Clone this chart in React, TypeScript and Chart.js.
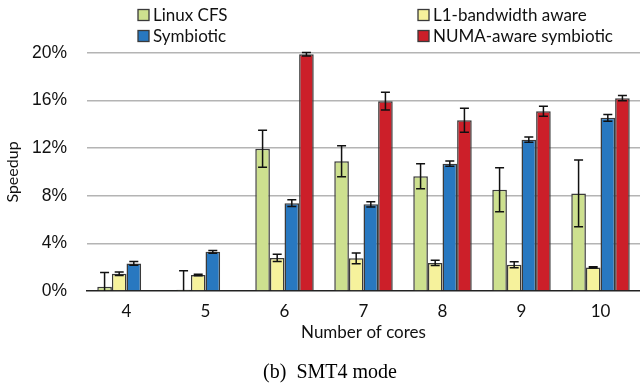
import React, { useEffect, useRef } from "react";
import { Chart, registerables } from "chart.js";

Chart.register(...registerables);

const categories = ["4", "5", "6", "7", "8", "9", "10"];
const seriesNames = ["Linux CFS", "L1-bandwidth aware", "Symbiotic", "NUMA-aware symbiotic"];
const linuxCFS = [0.35, 0.1, 11.95, 10.9, 9.65, 8.5, 8.2];
const linuxCFSErr = [1.2, 1.6, 1.55, 1.3, 1.05, 1.85, 2.8];
const l1Aware = [1.45, 1.35, 2.78, 2.75, 2.36, 2.2, 1.98];
const l1AwareErr = [0.15, 0.06, 0.3, 0.45, 0.22, 0.25, 0.05];
const symbiotic = [2.32, 3.29, 7.38, 7.28, 10.7, 12.72, 14.55];
const symbioticErr = [0.15, 0.12, 0.28, 0.22, 0.22, 0.22, 0.28];
const numaAware = [null, null, 19.9, 15.95, 14.35, 15.1, 16.2];
const numaAwareErr = [null, null, 0.15, 0.75, 1.0, 0.42, 0.22];
const yTicks = [0, 4, 8, 12, 16, 20];
const caption = "(b)  SMT4 mode";

const colors = ["#cde08f", "#f6f29c", "#2878c0", "#cc1f29"];
const errors = [linuxCFSErr, l1AwareErr, symbioticErr, numaAwareErr];

const errorBarPlugin = {
  id: "errorBars",
  afterDatasetsDraw(chart: any) {
    const ctx = chart.ctx;
    const yScale = chart.scales.y;
    const area = chart.chartArea;
    ctx.save();
    ctx.beginPath();
    ctx.rect(area.left, area.top - 5, area.right - area.left, area.bottom - area.top + 5);
    ctx.clip();
    ctx.strokeStyle = "#111111";
    ctx.lineWidth = 1.5;
    chart.data.datasets.forEach((ds: any, i: number) => {
      const meta = chart.getDatasetMeta(i);
      meta.data.forEach((el: any, j: number) => {
        const v = ds.data[j];
        const e = errors[i][j];
        if (v == null || e == null) return;
        const x = el.x;
        const yt = yScale.getPixelForValue(v + e);
        const yb = yScale.getPixelForValue(v - e);
        const cap = 4.5;
        ctx.beginPath();
        ctx.moveTo(x, yt);
        ctx.lineTo(x, yb);
        ctx.moveTo(x - cap, yt);
        ctx.lineTo(x + cap, yt);
        ctx.moveTo(x - cap, yb);
        ctx.lineTo(x + cap, yb);
        ctx.stroke();
      });
    });
    ctx.restore();
  },
};

const legendPlugin = {
  id: "customLegend",
  afterDraw(chart: any) {
    const ctx = chart.ctx;
    const positions = [
      [138, 15],
      [418, 15],
      [138, 36],
      [418, 36],
    ];
    ctx.save();
    ctx.font = "17px Lato";
    ctx.textBaseline = "middle";
    ctx.textAlign = "left";
    seriesNames.forEach((name, i) => {
      const [x, y] = positions[i];
      ctx.fillStyle = colors[i];
      ctx.fillRect(x, y - 5.5, 11, 11);
      ctx.strokeStyle = "#3a3a3a";
      ctx.lineWidth = 1.3;
      ctx.strokeRect(x, y - 5.5, 11, 11);
      ctx.fillStyle = "#111111";
      ctx.fillText(name, x + 15, y + 1);
    });
    ctx.font = "20px 'Liberation Serif'";
    ctx.fillStyle = "#000000";
    ctx.textAlign = "center";
    ctx.textBaseline = "alphabetic";
    ctx.fillText(caption, 330, 378);
    ctx.restore();
  },
};

export default function App() {
  const ref = useRef<HTMLCanvasElement>(null);
  useEffect(() => {
    document.body.style.margin = "0";
    const datasets = [linuxCFS, l1Aware, symbiotic, numaAware].map((d, i) => ({
      label: seriesNames[i],
      data: d,
      backgroundColor: colors[i],
      borderColor: "#3a3a3a",
      borderWidth: 1.5,
      categoryPercentage: 0.74,
      barPercentage: 1.0,
    }));
    const chart = new Chart(ref.current as HTMLCanvasElement, {
      type: "bar",
      data: { labels: categories, datasets },
      options: {
        animation: false,
        responsive: false,
        devicePixelRatio: 1,
        layout: { padding: { top: 53, right: 0, left: 0, bottom: 44 } },
        plugins: {
          legend: { display: false },
          tooltip: { enabled: false },
          title: { display: false },
        },
        scales: {
          x: {
            afterFit: (scale: any) => {
              scale.height = 52;
            },
            grid: { display: false, drawTicks: false },
            border: { display: true, color: "#222222", width: 1.5 },
            ticks: { color: "#111111", font: { family: "Lato", size: 17 }, padding: 10 },
            title: {
              display: true,
              text: "Number of cores",
              color: "#111111",
              font: { family: "Lato", size: 17 },
              padding: { top: 0, bottom: 0 },
            },
          },
          y: {
            min: 0,
            max: 20,
            afterBuildTicks: (scale: any) => {
              scale.ticks = yTicks.map((v) => ({ value: v }));
            },
            afterFit: (scale: any) => {
              scale.width = 87;
            },
            grid: {
              drawTicks: false,
              color: (c: any) => (c.tick && c.tick.value === 0 ? "rgba(0,0,0,0)" : "#b4b4b4"),
              lineWidth: 1.5,
            },
            border: { display: false },
            ticks: {
              color: "#111111",
              font: { family: "'Liberation Sans'", size: 17.5 },
              padding: 20,
              callback: (v: any) => v + "%",
            },
            title: {
              display: true,
              text: "Speedup",
              color: "#111111",
              font: { family: "Lato", size: 16 },
              padding: { top: 3, bottom: 0 },
            },
          },
        },
      },
      plugins: [errorBarPlugin, legendPlugin],
    } as any);
    return () => chart.destroy();
  }, []);
  return (
    <div style={{ width: 640, height: 387 }}>
      <canvas ref={ref} width={640} height={387} />
    </div>
  );
}
